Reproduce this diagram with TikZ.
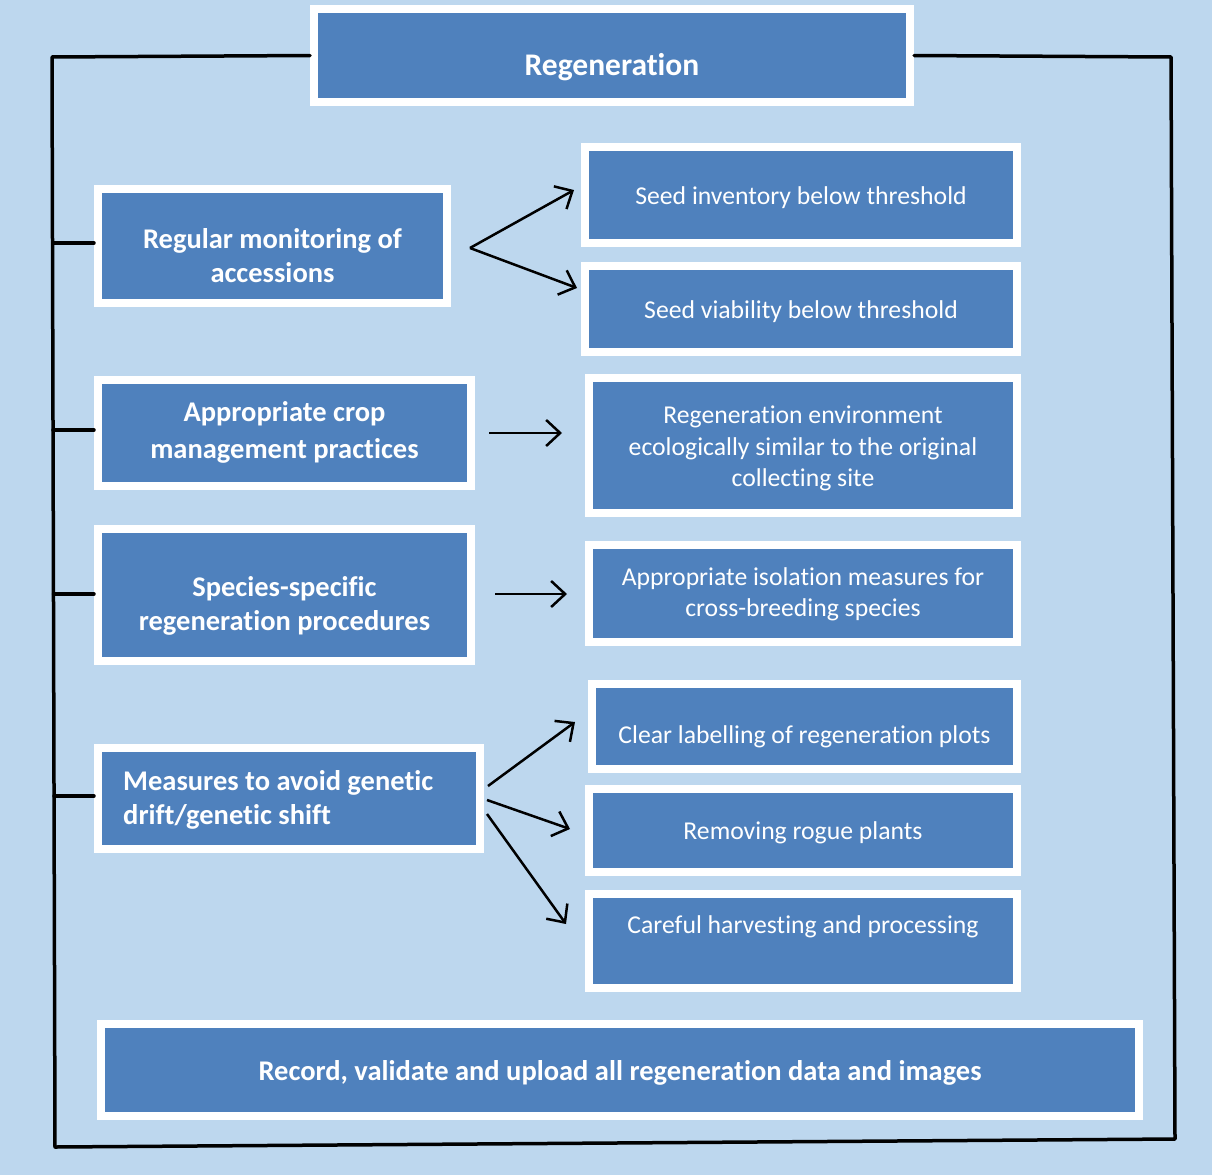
\documentclass[tikz,border=0pt]{standalone}
\usepackage{fontspec}
\setmainfont{Carlito}[Ligatures=NoCommon]
\usetikzlibrary{arrows.meta,shadows,calc}
\definecolor{bg}{HTML}{BDD7EE}
\definecolor{boxblue}{HTML}{4F81BD}
\begin{document}
\begin{tikzpicture}[x=1pt,y=-1pt,
  bx/.style={draw=white, line width=8pt, fill=boxblue, inner sep=0pt,
    drop shadow={shadow xshift=2pt,shadow yshift=-3pt,opacity=0.35,fill=black!70}},
  txt/.style={text=white, inner sep=0pt, align=center},
  bold/.style={txt, font=\fontsize{28.5}{34}\selectfont\bfseries},
  reg/.style={txt, font=\fontsize{25.7}{31.5}\selectfont},
  frameline/.style={line width=3.5pt, black, line cap=round, line join=round},
  arr/.style={line width=2.5pt, black, -{Straight Barb[length=14pt,width=26pt]}}]
\fill[bg] (0,0) rectangle (1212,1175);
\useasboundingbox (0,0) rectangle (1212,1175);

% frame corners
\coordinate (tl) at (52,57);
\coordinate (bl) at (55,1147);
\coordinate (br) at (1175,1139);
\coordinate (tr) at (1171,57);

% boxes
\node[bx, minimum width=596, minimum height=93] (top) at (612,55.5) {};
\node[bx, minimum width=349, minimum height=114] (mon) at (272.5,246) {};
\node[bx, minimum width=432, minimum height=96] (inv) at (801,195) {};
\node[bx, minimum width=432, minimum height=86] (via) at (801,309) {};
\node[bx, minimum width=373, minimum height=106] (crop) at (284.5,433) {};
\node[bx, minimum width=428, minimum height=135] (env) at (803,445.5) {};
\node[bx, minimum width=373, minimum height=132] (spec) at (284.5,595) {};
\node[bx, minimum width=428, minimum height=97] (iso) at (803,593.5) {};
\node[bx, minimum width=382, minimum height=101] (meas) at (289,798.5) {};
\node[bx, minimum width=425, minimum height=85] (lab) at (804.5,726.5) {};
\node[bx, minimum width=428, minimum height=83] (rog) at (803,830.5) {};
\node[bx, minimum width=428, minimum height=94] (har) at (803,941) {};
\node[bx, minimum width=1038, minimum height=92] (rec) at (620,1070) {};

% texts
\node[bold, font=\fontsize{31.5}{34}\selectfont\bfseries] (top-t) at ($(top.center)+(0,12)$) {Regeneration};
\node[bold] (mon-t) at ($(mon.center)+(0,10)$) {Regular monitoring of\\accessions};
\node[reg] (inv-t) at ($(inv.center)+(0,3)$) {Seed inventory below threshold};
\node[reg] (via-t) at ($(via.center)+(0,3)$) {Seed viability below threshold};
\node[bold, font=\fontsize{28.5}{37}\selectfont\bfseries] (crop-t) at ($(crop.center)+(0,-1)$) {Appropriate crop\\management practices};
\node[reg] (env-t) at ($(env.center)+(0,3)$) {Regeneration environment\\ecologically similar to the original\\collecting site};
\node[bold] (spec-t) at ($(spec.center)+(0,11)$) {Species-specific\\regeneration procedures};
\node[reg] (iso-t) at ($(iso.center)+(0,1)$) {Appropriate isolation measures for\\cross-breeding species};
\node[bold, align=left, anchor=west] (meas-t) at ($(meas.west)+(29,1)$) {Measures to avoid genetic\\drift/genetic shift};
\node[reg] (lab-t) at ($(lab.center)+(0,10)$) {Clear labelling of regeneration plots};
\node[reg] (rog-t) at ($(rog.center)+(0,2)$) {Removing rogue plants};
\node[reg] (har-t) at ($(har.center)+(0,-14)$) {Careful harvesting and processing};
\node[bold, font=\fontsize{28.5}{34}\selectfont\bfseries] (rec-t) at ($(rec.center)+(0,3)$) {Record, validate and upload all regeneration data and images};

% frame
\draw[frameline] (top.west) -- (tl) -- (bl) -- (br) -- (tr) -- (top.east);
\draw[frameline] (53,243) -- (mon.west |- 0,243);
\draw[frameline] (53,430) -- (crop.west |- 0,430);
\draw[frameline] (53.5,594) -- (spec.west |- 0,594);
\draw[frameline] (54,796) -- (meas.west |- 0,796);

% arrow points
\coordinate (f1) at (470,248);
\coordinate (e1) at (574,190);
\coordinate (e2) at (577,288);
\coordinate (f3) at (489,433);
\coordinate (e3) at (562,433);
\coordinate (f4) at (495,594);
\coordinate (e4) at (567,594);
\coordinate (f5) at (488,786);
\coordinate (e5) at (575,722);
\coordinate (f6) at (487,800);
\coordinate (e6) at (570,829);
\coordinate (f7) at (487,814);
\coordinate (e7) at (566,924);

\draw[arr] (f1) -- (e1);
\draw[arr] (f1) -- (e2);
\draw[arr] (f3) -- (e3);
\draw[arr] (f4) -- (e4);
\draw[arr] (f5) -- (e5);
\draw[arr] (f6) -- (e6);
\draw[arr] (f7) -- (e7);
\end{tikzpicture}
\end{document}
